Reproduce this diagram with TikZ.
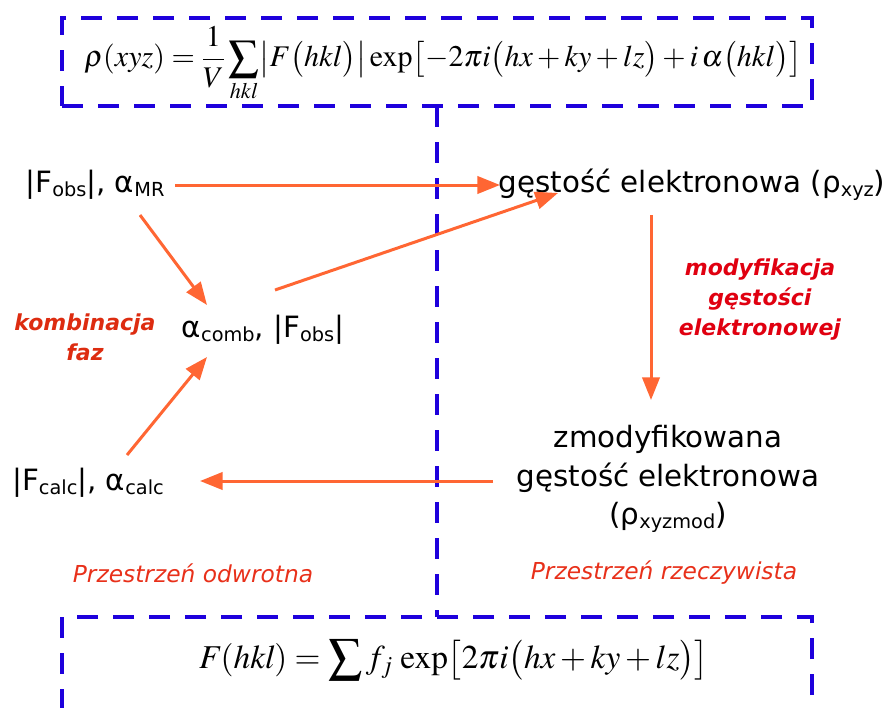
\documentclass[tikz,border=0pt]{standalone}
\usepackage{mathptmx}
\usepackage[no-math]{fontspec}
\setmainfont{DejaVu Sans}
\usetikzlibrary{arrows.meta,calc}
\definecolor{dblue}{RGB}{30,0,220}
\definecolor{arrc}{RGB}{255,102,51}
\definecolor{kombc}{RGB}{221,44,16}
\definecolor{modc}{RGB}{224,0,16}
\definecolor{przc}{RGB}{232,48,26}
\newcommand\sbs[1]{\raisebox{-0.25ex}{\fontsize{14.5pt}{15pt}\selectfont #1}}
\begin{document}
\begin{tikzpicture}[x=0.75pt,y=-0.75pt,
  every node/.style={inner sep=0pt, outer sep=0pt},
  txt/.style={font=\fontsize{22pt}{29pt}\selectfont, align=center},
  lbl/.style={font=\fontsize{16.5pt}{22.5pt}\selectfont\bfseries\itshape, align=center, text=kombc},
  spacelbl/.style={font=\fontsize{17.5pt}{22pt}\selectfont\itshape, text=przc},
  arr/.style={draw=arrc, line width=2.25pt, -{Triangle[length=17pt,width=13pt]}},
  bdash/.style={draw=dblue, line width=3pt, dash pattern=on 16pt off 11pt},
  ]
\useasboundingbox (0,0) rectangle (888,707);
\clip (0,0) rectangle (888,707);

% dashed boxes and separator
\node[bdash, minimum width=562.5pt, minimum height=66pt] (topbox) at (437,62) {};
\node[bdash, minimum width=562.5pt, minimum height=90pt] (botbox) at (437,677) {};
\draw[bdash] (topbox.south) -- (botbox.north);

% formulas
\node[font=\fontsize{22.5pt}{27pt}\selectfont] (topf) at (443,64) {$\displaystyle \rho(xyz)=\frac{1}{V}\sum_{hkl}\bigl|F\bigl(hkl\bigr)\bigr|\exp\bigl[-2\pi i\bigl(hx+ky+lz\bigr)+i\,\alpha\bigl(hkl\bigr)\bigr]$};
\node[font=\fontsize{25pt}{29pt}\selectfont] (botf) at (454,660) {$\displaystyle \mathit{F(hkl)}=\sum\nolimits f_{j}\,\exp\bigl[2\pi i\bigl(hx+ky+lz\bigr)\bigr]$};

% main texts
\node[txt] (fobs) at (95,185) {|F\sbs{obs}|, α\sbs{MR}};
\node[txt] (rho) at (692,185) {gęstość elektronowa (ρ\sbs{xyz})};
\node[txt] (comb) at (263,330) {α\sbs{comb}, |F\sbs{obs}|};
\node[txt] (calc) at (88,483) {|F\sbs{calc}|, α\sbs{calc}};
\node[txt] (zmod) at (668,479) {zmodyfikowana\\gęstość elektronowa\\(ρ\sbs{xyzmod})};

% labels
\node[lbl] (komb) at (85,337) {kombinacja\\faz};
\node[lbl, text=modc] (modl) at (760,300) {modyfikacja\\gęstości\\elektronowej};
\node[spacelbl] (odw) at (193,573) {Przestrzeń odwrotna};
\node[spacelbl] (rzecz) at (664,573) {Przestrzeń rzeczywista};

% arrows
\draw[arr] ($(fobs.center)+(80,0)$) -- ($(rho.center)+(-192,0)$);
\draw[arr] ($(fobs.center)+(45,30)$) -- ($(comb.center)+(-56,-25)$);
\draw[arr] ($(comb.center)+(12,-40)$) -- ($(rho.center)+(-134,8)$);
\draw[arr] ($(calc.center)+(39,-28)$) -- ($(comb.center)+(-56,27)$);
\draw[arr] ($(rho.center)+(-41,30)$) -- ($(zmod.center)+(-17,-79)$);
\draw[arr] ($(zmod.center)+(-175,2)$) -- ($(calc.center)+(112,-2)$);
\end{tikzpicture}
\end{document}
